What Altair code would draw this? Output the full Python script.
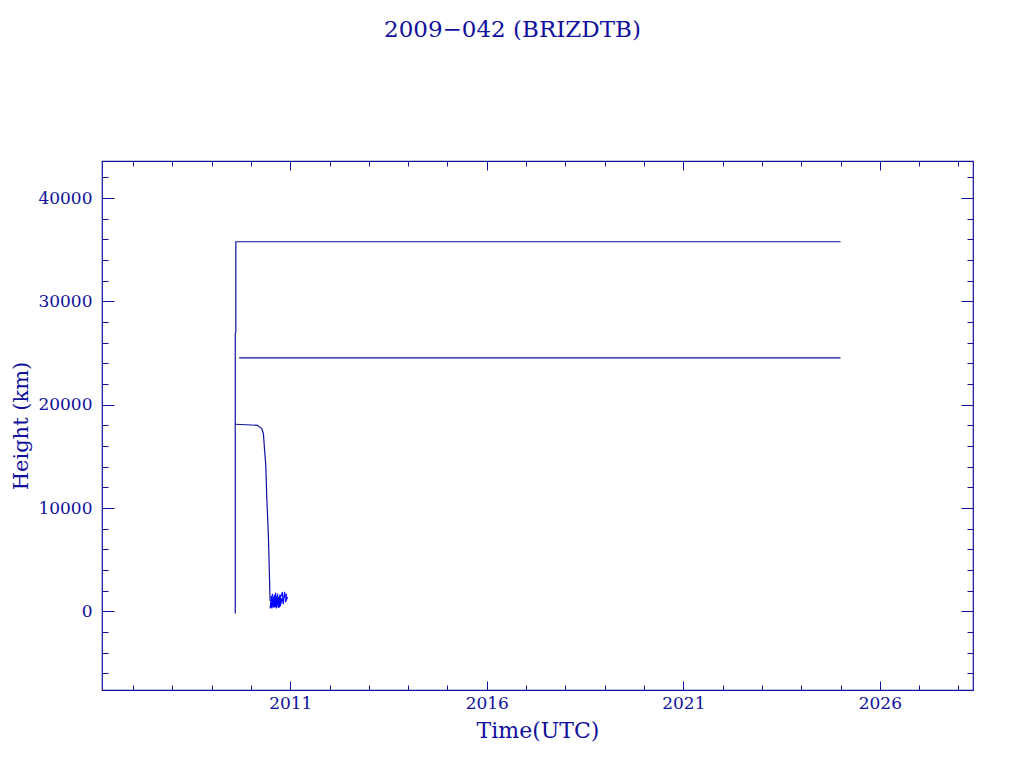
import altair as alt
import pandas as pd

NAVY = "#10109C"
BRIGHT = "#0000FF"
FONT = "DejaVu Serif"

# ---- data (decimal years, height km) ----
geo_t = [2009.600, 2009.600, 2009.615, 2009.615, 2025.00]
geo_h = [-200, 26900, 27000, 35770, 35770]

mid_t = [2009.700, 2025.00]
mid_h = [24530, 24530]

decay_t = [2009.600, 2010.163, 2010.275, 2010.316, 2010.341, 2010.377,
           2010.402, 2010.443, 2010.468, 2010.486]
decay_h = [18110, 18010, 17700, 17200, 15900, 14140, 11070, 7360, 3800, 1000]

cluster_t = [2010.49, 2010.52, 2010.50, 2010.55, 2010.51, 2010.58, 2010.53,
             2010.60, 2010.56, 2010.63, 2010.58, 2010.66, 2010.61, 2010.68,
             2010.64, 2010.71, 2010.66, 2010.74, 2010.69, 2010.77, 2010.72,
             2010.79, 2010.75, 2010.70, 2010.80, 2010.82, 2010.86, 2010.84,
             2010.90, 2010.88, 2010.93]
cluster_h = [300, 1500, 500, 1700, 400, 1400, 300, 1600, 500, 1800, 350, 1500,
             450, 1700, 300, 1400, 550, 1600, 350, 1300, 400, 1200, 600, 900,
             1850, 700, 1900, 1300, 1700, 900, 1400]

x_major = [2011, 2016, 2021, 2026]
x_minor = [2007, 2008, 2009, 2010, 2012, 2013, 2014, 2015, 2017, 2018, 2019,
           2020, 2022, 2023, 2024, 2025, 2027, 2028]
y_major = [0, 10000, 20000, 30000, 40000]
y_minor = [-6000, -4000, -2000, 2000, 4000, 6000, 8000, 12000, 14000, 16000,
           18000, 22000, 24000, 26000, 28000, 32000, 34000, 36000, 38000, 42000]

X_DOMAIN = [2006.21, 2028.37]
Y_DOMAIN = [-7600, 43580]

rows = []
for name, ts, hs in [("geo", geo_t, geo_h), ("mid", mid_t, mid_h),
                     ("decay", decay_t, decay_h), ("cluster", cluster_t, cluster_h)]:
    for i, (t, h) in enumerate(zip(ts, hs)):
        rows.append({"series": name, "t": t, "h": h, "i": i})
df = pd.DataFrame(rows)

W, H = 871, 529

xs = alt.Scale(domain=X_DOMAIN, nice=False, zero=False)
ys = alt.Scale(domain=Y_DOMAIN, nice=False, zero=False)
SERIES = ["geo", "mid", "decay", "cluster"]


def tick_axis(orient, values, size, offset):
    return alt.Axis(orient=orient, values=values, tickSize=size, offset=offset,
                    labels=False, domain=False, grid=False, title=None,
                    ticks=True, tickColor=NAVY, tickWidth=1)


lines = alt.Chart(df).mark_line().encode(
    x=alt.X("t:Q", scale=xs, axis=alt.Axis(
        orient="bottom", values=x_major, format="d", ticks=False, tickSize=0,
        domain=False, grid=False, title="Time(UTC)", labelPadding=5,
        titlePadding=9)),
    y=alt.Y("h:Q", scale=ys, axis=alt.Axis(
        orient="left", values=y_major, format="d", ticks=False, tickSize=0,
        domain=False, grid=False, title="Height (km)", labelPadding=10,
        titlePadding=6, titleFontSize=21)),
    detail="series:N",
    order="i:Q",
    color=alt.Color("series:N", legend=None, scale=alt.Scale(
        domain=SERIES, range=[NAVY, NAVY, NAVY, BRIGHT])),
    strokeWidth=alt.StrokeWidth("series:N", legend=None, scale=alt.Scale(
        domain=SERIES, range=[1.2, 1.2, 1.2, 2.2])),
)


def tick_layer(xaxis, yaxis):
    return alt.Chart(df).mark_point(opacity=0).encode(
        x=alt.X("t:Q", scale=xs, axis=xaxis),
        y=alt.Y("h:Q", scale=ys, axis=yaxis),
    )


# inward ticks: bottom edge (top-oriented axis shifted down), left edge (right axis shifted left)
l_major_bl = tick_layer(tick_axis("top", x_major, 9, -H), tick_axis("right", y_major, 12, -W))
l_minor_bl = tick_layer(tick_axis("top", x_minor, 5, -H), tick_axis("right", y_minor, 6, -W))
# inward ticks: top edge (bottom axis shifted up), right edge (left axis shifted right)
l_major_tr = tick_layer(tick_axis("bottom", x_major, 9, -H), tick_axis("left", y_major, 12, -W))
l_minor_tr = tick_layer(tick_axis("bottom", x_minor, 5, -H), tick_axis("left", y_minor, 6, -W))

chart = alt.layer(lines, l_major_bl, l_minor_bl, l_major_tr, l_minor_tr).resolve_axis(
    x="independent", y="independent"
).properties(
    width=W, height=H,
    background="white",
    autosize=alt.AutoSizeParams(type="none"),
    padding={"left": 94, "top": 153, "right": 40, "bottom": 70},
    title=alt.TitleParams("2009\u2212042 (BRIZDTB)", font=FONT, fontSize=23,
                          fontWeight="normal", color=NAVY, anchor="middle",
                          offset=119, dx=-25),
).configure_axis(
    labelFont=FONT, labelFontSize=17, labelColor=NAVY,
    titleFont=FONT, titleFontSize=22, titleColor=NAVY, titleFontWeight="normal",
    tickColor=NAVY,
).configure_view(
    stroke=NAVY, strokeWidth=1.2,
)

chart.save("out.html", embed_options={"renderer": "svg", "actions": False})
